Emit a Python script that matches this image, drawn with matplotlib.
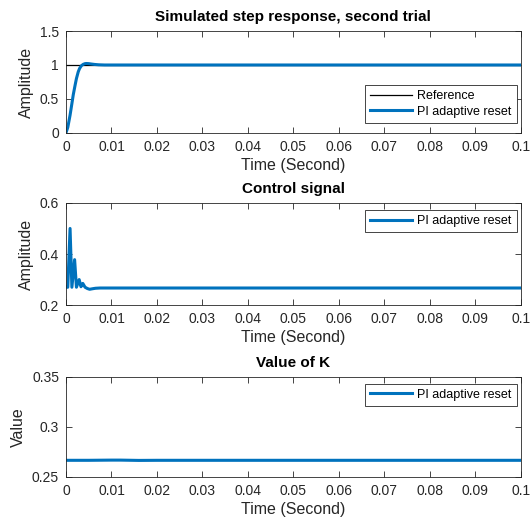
# Respuesta al escalon, senal de control y valor de K (estilo MATLAB)
import numpy as np
import matplotlib
matplotlib.use('Agg')
import matplotlib.pyplot as plt

plt.rcParams['font.family'] = ['Liberation Sans', 'DejaVu Sans']
plt.rcParams['font.size'] = 10

# Datos
t_step = [0, 0.0004, 0.0009, 0.0013, 0.0016, 0.002, 0.0023, 0.0027, 0.003, 0.0034,
          0.0038, 0.0042, 0.0045, 0.0050, 0.0055, 0.0063, 0.0072, 0.0085, 0.1]
y_step = [0, 0.08, 0.26, 0.43, 0.56, 0.70, 0.80, 0.90, 0.95, 0.99,
          1.01, 1.02, 1.022, 1.02, 1.015, 1.008, 1.003, 1.0, 1.0]
t_ref = [0, 0.1]
y_ref = [1, 1]

t_ctrl = [0, 0.0004, 0.0009, 0.0013, 0.0019, 0.0023, 0.0029, 0.0033, 0.0037,
          0.0042, 0.0047, 0.0052, 0.0058, 0.0065, 0.0075, 0.1]
u_ctrl = [0.27, 0.27, 0.50, 0.27, 0.378, 0.27, 0.30, 0.272, 0.285,
          0.27, 0.265, 0.262, 0.264, 0.266, 0.267, 0.267]

t_k = [0, 0.005, 0.01, 0.012, 0.016, 0.02, 0.1]
k_val = [0.2666, 0.2666, 0.2668, 0.2668, 0.2665, 0.2666, 0.2666]

xticks = np.round(np.arange(0, 0.1001, 0.01), 2)
xticklabels = ['0', '0.01', '0.02', '0.03', '0.04', '0.05', '0.06', '0.07', '0.08', '0.09', '0.1']

blue = '#0072BD'
axcol = '#262626'

fig = plt.figure(figsize=(5.32, 5.27), dpi=100)
ax1 = fig.add_axes([0.124, 0.748, 0.855, 0.193])
ax2 = fig.add_axes([0.124, 0.421, 0.855, 0.194])
ax3 = fig.add_axes([0.124, 0.095, 0.855, 0.190])

def estilo(ax, yticks, yticklabels, ylim, ylabel, title):
    ax.set_xlim(0, 0.1)
    ax.set_ylim(*ylim)
    ax.set_xticks(xticks)
    ax.set_xticklabels(xticklabels)
    ax.set_yticks(yticks)
    ax.set_yticklabels(yticklabels)
    ax.tick_params(direction='in', length=4, width=0.6, colors=axcol,
                   top=True, right=True, labelsize=10, pad=5)
    for s in ax.spines.values():
        s.set_color(axcol)
        s.set_linewidth(0.6)
    ax.set_xlabel('Time (Second)', fontsize=11.5, color=axcol, labelpad=3)
    ax.set_ylabel(ylabel, fontsize=11.5, color=axcol, labelpad=4)
    ax.set_title(title, fontsize=11, fontweight='bold', pad=7)

def leyenda(ax, loc, anchor):
    leg = ax.legend(loc=loc, bbox_to_anchor=anchor, borderaxespad=0, fontsize=9,
                    fancybox=False, framealpha=1, edgecolor=axcol, borderpad=0.4,
                    handlelength=3.4, handletextpad=0.4, labelspacing=0.3)
    leg.get_frame().set_linewidth(0.6)

# Respuesta al escalon
ax1.plot(t_ref, y_ref, color='black', lw=0.9, label='Reference')
ax1.plot(t_step, y_step, color=blue, lw=2.2, label='PI adaptive reset')
estilo(ax1, [0, 0.5, 1, 1.5], ['0', '0.5', '1', '1.5'], (0, 1.5), 'Amplitude',
       'Simulated step response, second trial')
leyenda(ax1, 'lower right', (0.991, 0.098))

# Senal de control
ax2.plot(t_ctrl, u_ctrl, color=blue, lw=2.2, label='PI adaptive reset')
estilo(ax2, [0.2, 0.4, 0.6], ['0.2', '0.4', '0.6'], (0.2, 0.6), 'Amplitude',
       'Control signal')
leyenda(ax2, 'upper right', (0.991, 0.931))

# Valor de K
ax3.plot(t_k, k_val, color=blue, lw=2.2, label='PI adaptive reset')
estilo(ax3, [0.25, 0.3, 0.35], ['0.25', '0.3', '0.35'], (0.25, 0.35), 'Value',
       'Value of K')
leyenda(ax3, 'upper right', (0.991, 0.931))

fig.savefig('out.png', dpi=100)
